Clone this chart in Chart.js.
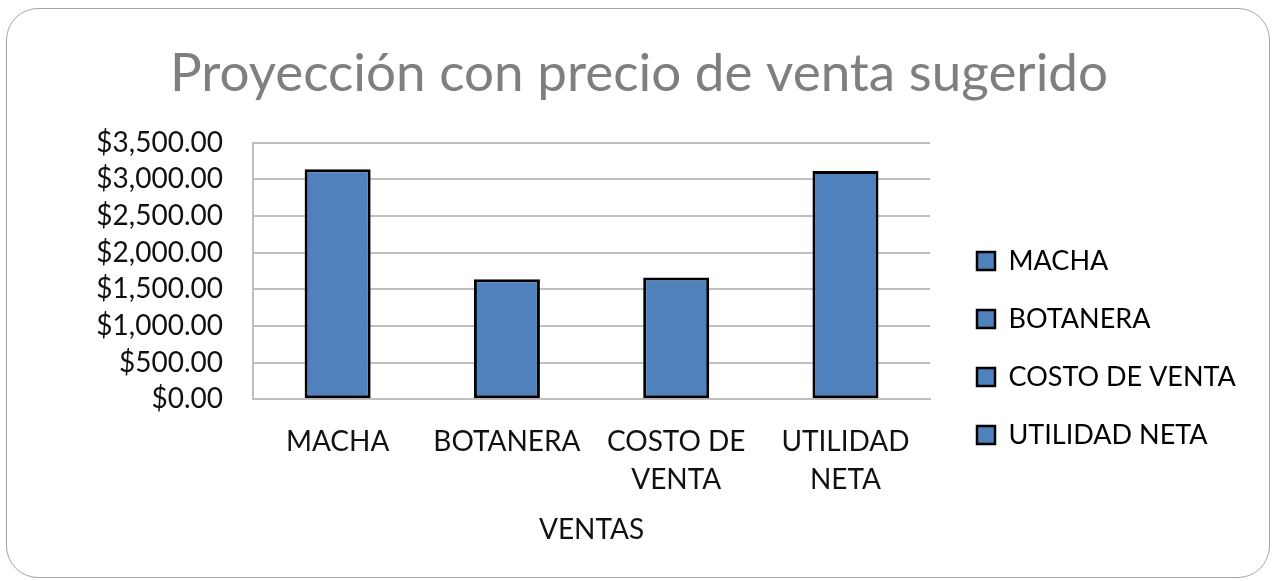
<!DOCTYPE html>
<html>
<head>
<meta charset="utf-8">
<script src="https://cdn.jsdelivr.net/npm/chart.js@4.4.1/dist/chart.umd.min.js"></script>
<style>
  html, body { margin: 0; padding: 0; background: #fff; }
  #wrap { position: relative; width: 1274px; height: 581px; }
  #frame {
    position: absolute; left: 6px; top: 8px; width: 1262px; height: 568px;
    border: 1.5px solid #a6a6a6; border-radius: 32px;
  }
  canvas { position: absolute; left: 0; top: 0; }
</style>
</head>
<body>
<div id="wrap">
  <div id="frame"></div>
  <canvas id="chart" width="1274" height="581"></canvas>
</div>
<script>
// datos del grafico
const categories = [['MACHA'], ['BOTANERA'], ['COSTO DE', 'VENTA'], ['UTILIDAD', 'NETA']];
const legendNames = ['MACHA', 'BOTANERA', 'COSTO DE VENTA', 'UTILIDAD NETA'];
const values = [3136, 1636, 1659, 3114];
const yMin = 0;
const yMax = 3500;
const yStep = 500;

const FONT = 'Lato, "Open Sans", sans-serif';
const BLUE = '#4f81bd';
const TEXT = '#111';

function money(v) {
    return '$' + v.toLocaleString('en-US', { minimumFractionDigits: 2, maximumFractionDigits: 2 });
}

// put legend and title where the original has them
const boxPlace = {
    id: 'boxPlace',
    afterLayout(chart) {
        const lg = chart.legend;
        const pad = lg.options.labels.padding;
        const dx = 977 - (lg.left + pad);
        lg.left += dx;
        lg.right += dx;
        const dy = 348 - (lg.top + lg.bottom) / 2;
        lg.top += dy;
        lg.bottom += dy;

        const t = chart.titleBlock;
        const tx = 639 - (t.left + t.right) / 2;
        t.left += tx;
        t.right += tx;
    }
};

const ctx = document.getElementById('chart').getContext('2d');
new Chart(ctx, {
    type: 'bar',
    data: {
        labels: categories,
        datasets: [{
            label: 'VENTAS',
            data: values,
            backgroundColor: BLUE,
            borderColor: '#000',
            borderWidth: 3,
            borderSkipped: false,
            barPercentage: 0.78,
            categoryPercentage: 0.5
        }]
    },
    options: {
        responsive: false,
        animation: false,
        layout: { padding: { left: 0, right: 44, top: 0, bottom: 34 } },
        plugins: {
            title: {
                display: true,
                text: 'Proyección con precio de venta sugerido',
                color: '#7f7f7f',
                font: { family: FONT, size: 53, weight: 'normal' },
                padding: { top: 42, bottom: 37 }
            },
            legend: {
                position: 'right',
                labels: {
                    color: TEXT,
                    font: { family: FONT, size: 27 },
                    boxWidth: 18,
                    boxHeight: 18,
                    padding: 31,
                    generateLabels: function () {
                        return legendNames.map((name, i) => ({
                            text: name,
                            fillStyle: BLUE,
                            strokeStyle: '#000',
                            lineWidth: 2.5,
                            hidden: false,
                            index: i
                        }));
                    }
                }
            },
            tooltip: { enabled: false }
        },
        scales: {
            x: {
                grid: { display: false },
                border: { color: '#bfbfbf', width: 2 },
                ticks: {
                    color: TEXT,
                    font: { family: FONT, size: 28, lineHeight: 1.36 },
                    maxRotation: 0,
                    autoSkip: false,
                    padding: 16
                },
                title: {
                    display: true,
                    text: 'VENTAS',
                    color: TEXT,
                    font: { family: FONT, size: 28 },
                    padding: { top: -2, bottom: 0 }
                }
            },
            y: {
                min: yMin,
                max: yMax,
                afterFit: function (scale) { scale.width = 253; },
                grid: { color: '#bfbfbf', lineWidth: 2, drawTicks: false },
                border: { color: '#bfbfbf', width: 2 },
                ticks: {
                    stepSize: yStep,
                    autoSkip: false,
                    color: TEXT,
                    font: { family: FONT, size: 28 },
                    padding: 30,
                    callback: (v) => money(v)
                }
            }
        }
    },
    plugins: [boxPlace]
});
</script>
</body>
</html>
